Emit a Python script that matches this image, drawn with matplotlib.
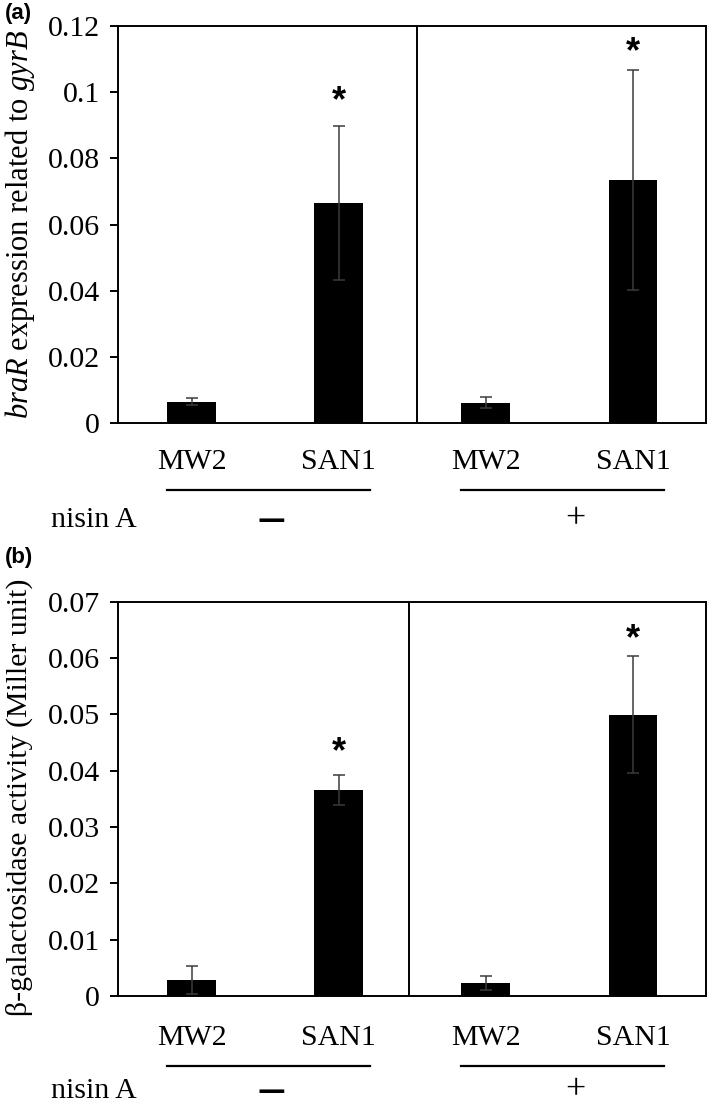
import matplotlib.pyplot as plt

plt.rcParams['font.family'] = ['Liberation Serif', 'DejaVu Serif']
plt.rcParams['mathtext.fontset'] = 'custom'
plt.rcParams['mathtext.rm'] = 'Liberation Serif'
plt.rcParams['mathtext.it'] = 'Liberation Serif:italic'

# data
strains = ['MW2', 'SAN1', 'MW2', 'SAN1']
nisin_marks = ['\u2014', '+']          # without / with nisin A
signif = [False, True, False, True]

braR_mean = [0.0065, 0.0665, 0.0061, 0.0734]
braR_err = [0.0010, 0.0232, 0.0017, 0.0332]
braR_ticks = [0, 0.02, 0.04, 0.06, 0.08, 0.1, 0.12]

gal_mean = [0.0029, 0.0366, 0.0023, 0.0499]
gal_err = [0.0025, 0.0027, 0.0013, 0.0104]
gal_ticks = [0, 0.01, 0.02, 0.03, 0.04, 0.05, 0.06, 0.07]

FS = 21.5


def draw_panel(ax, mean, err, yticks, divider, lab_y, line_y, nisin_y, star_off):
    x = list(range(len(mean)))
    ax.bar(x, mean, width=0.33, color='black', zorder=2)
    ax.errorbar(x, mean, yerr=err, fmt='none', ecolor='#3c3c3c',
                elinewidth=1.1, capsize=4, capthick=1.1, zorder=3)
    for i in x:
        if signif[i]:
            ax.annotate('*', xy=(i, mean[i] + err[i]), xytext=(0, star_off[i]),
                        textcoords='offset points', ha='center', va='center',
                        fontsize=26, fontweight='bold', family='Liberation Sans')

    ax.set_xlim(-0.5, 3.5)
    ax.set_ylim(yticks[0], yticks[-1])
    ax.set_yticks(yticks)
    ax.set_yticklabels(['%g' % t for t in yticks], fontsize=FS)
    ax.set_xticks([])
    ax.tick_params(axis='y', direction='out', length=6, width=1.4, pad=7)
    for s in ax.spines.values():
        s.set_linewidth(1.4)
    ax.axvline(divider, color='black', lw=1.4)

    tr = ax.get_xaxis_transform()
    for i in x:
        ax.text(i, lab_y, strains[i], transform=tr, ha='center', va='center', fontsize=FS)
    # group lines and nisin A row
    for g in range(2):
        a, b = 2 * g, 2 * g + 1
        ax.plot([a - 0.165, b + 0.21], [line_y, line_y], transform=tr,
                color='black', lw=1.6, clip_on=False)
    ax.text(-0.37, nisin_y, 'nisin A', transform=tr, ha='right', va='center', fontsize=FS)
    ax.text(0.54, nisin_y, nisin_marks[0], transform=tr, ha='center', va='center',
            fontsize=20, fontweight='bold', family='DejaVu Sans')
    ax.text(2.61, nisin_y, nisin_marks[1], transform=tr, ha='center', va='center',
            fontsize=26)


fig = plt.figure(figsize=(7.09, 11.08), dpi=100)

ax1 = fig.add_axes([0.1664, 0.6182, 0.83, 0.3583])
draw_panel(ax1, braR_mean, braR_err, braR_ticks, 1.53, -0.0975, -0.169, -0.244,
           [0, 18, 0, 12.5])
fig.text(20 / 709, 1 - 224 / 1108, r'$braR$ expression related to $gyrB$',
         rotation=90, ha='center', va='center', fontsize=22)
fig.text(18 / 709, 1 - 13 / 1108, '(a)', ha='center', va='center', fontsize=16,
         fontweight='bold', family='Liberation Sans')

ax2 = fig.add_axes([0.1664, 0.1011, 0.83, 0.356])
draw_panel(ax2, gal_mean, gal_err, gal_ticks, 1.476, -0.1065, -0.178, -0.24,
           [0, 16, 0, 12])
fig.text(19 / 709, 1 - 797 / 1108, '\u03b2-galactosidase activity (Miller unit)',
         rotation=90, ha='center', va='center', fontsize=21.5)
fig.text(19 / 709, 1 - 557 / 1108, '(b)', ha='center', va='center', fontsize=16,
         fontweight='bold', family='Liberation Sans')

fig.savefig('out.png', dpi=100)
